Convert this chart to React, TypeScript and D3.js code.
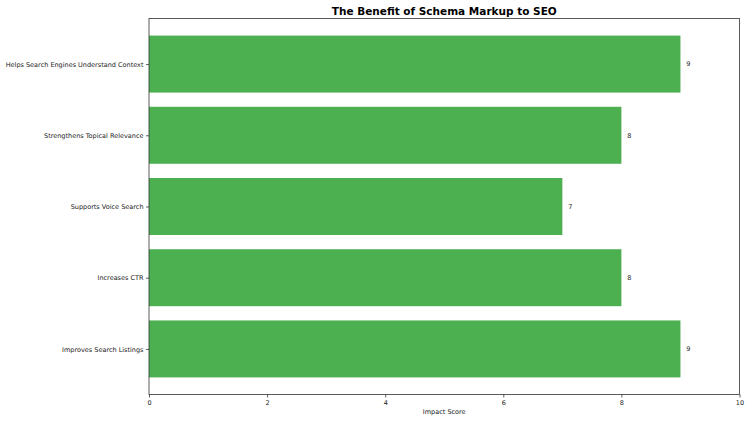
import { useEffect, useRef } from "react";
import * as d3 from "d3";

const BENEFITS = [
  "Improves Search Listings",
  "Increases CTR",
  "Supports Voice Search",
  "Strengthens Topical Relevance",
  "Helps Search Engines Understand Context",
];
const SCORES = [9, 8, 7, 8, 9];
const X_TICKS = [0, 2, 4, 6, 8, 10];

const FONT = "'DejaVu Sans', sans-serif";

export default function App() {
  const svgRef = useRef<SVGSVGElement>(null);
  const width = 750;
  const height = 422;

  useEffect(() => {
    if (!svgRef.current) return;
    const margin = { top: 18.5, right: 10.5, bottom: 27.5, left: 149 };
    const innerW = width - margin.left - margin.right;
    const innerH = height - margin.top - margin.bottom;

    const svg = d3.select(svgRef.current);
    svg.selectAll("*").remove();

    const g = svg
      .append("g")
      .attr("transform", `translate(${margin.left},${margin.top})`);

    const x = d3.scaleLinear().domain([0, 10]).range([0, innerW]);
    // matplotlib-style limits: bars of height 0.8, 5% margins
    const y = d3.scaleLinear().domain([-0.64, 4.64]).range([innerH, 0]);
    const barH = y(0) - y(0.8);

    g.selectAll("rect.bar")
      .data(SCORES)
      .join("rect")
      .attr("class", "bar")
      .attr("x", x(0))
      .attr("y", (_, i) => y(i + 0.4))
      .attr("width", (d) => x(d) - x(0))
      .attr("height", barH)
      .attr("fill", "#4caf50");

    // value labels
    g.selectAll("text.val")
      .data(SCORES)
      .join("text")
      .attr("class", "val")
      .attr("x", (d) => x(d + 0.1))
      .attr("y", (_, i) => y(i))
      .attr("dy", "0.35em")
      .attr("font-size", "6.5px")
      .attr("font-family", FONT)
      .attr("fill", "#222")
      .text((d) => d);

    // frame
    g.append("rect")
      .attr("width", innerW)
      .attr("height", innerH)
      .attr("fill", "none")
      .attr("stroke", "#333")
      .attr("stroke-width", 0.8);

    // x axis
    g.append("g")
      .attr("transform", `translate(0,${innerH})`)
      .call(d3.axisBottom(x).tickValues(X_TICKS).tickSize(3).tickPadding(2.5))
      .call((axis) => {
        axis.select(".domain").remove();
        axis.selectAll("line").attr("stroke", "#333").attr("stroke-width", 0.8);
        axis
          .selectAll("text")
          .attr("fill", "#222")
          .attr("font-size", "6.5px")
          .attr("font-family", FONT);
      });

    // y axis
    g.append("g")
      .call(
        d3
          .axisLeft(y)
          .tickValues(BENEFITS.map((_, i) => i))
          .tickFormat((_, i) => BENEFITS[i])
          .tickSize(3)
          .tickPadding(2.5)
      )
      .call((axis) => {
        axis.select(".domain").remove();
        axis.selectAll("line").attr("stroke", "#333").attr("stroke-width", 0.8);
        axis
          .selectAll("text")
          .attr("fill", "#222")
          .attr("font-size", "6.5px")
          .attr("font-family", FONT);
      });

    // x label
    g.append("text")
      .attr("x", innerW / 2)
      .attr("y", innerH + 19)
      .attr("text-anchor", "middle")
      .attr("font-size", "6.5px")
      .attr("font-family", FONT)
      .attr("fill", "#222")
      .text("Impact Score");

    // title
    svg
      .append("text")
      .attr("x", margin.left + innerW / 2)
      .attr("y", 15)
      .attr("text-anchor", "middle")
      .attr("font-size", "10.5px")
      .attr("font-weight", "bold")
      .attr("font-family", FONT)
      .attr("fill", "#000")
      .text("The Benefit of Schema Markup to SEO");
  }, []);

  return (
    <svg
      ref={svgRef}
      width={width}
      height={height}
      style={{ position: "absolute", left: 0, top: 0, background: "#fff" }}
    />
  );
}
